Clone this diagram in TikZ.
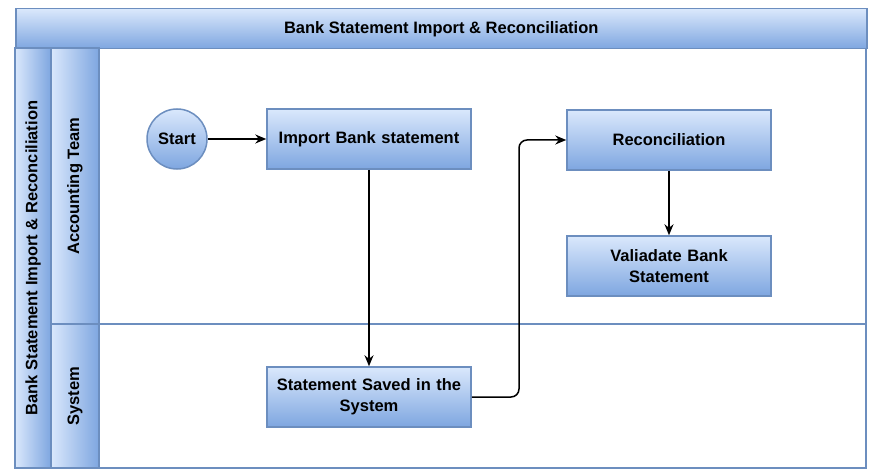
\documentclass[tikz,border=0pt]{standalone}
\usepackage{fontspec}
\setmainfont{Liberation Sans}
\usetikzlibrary{arrows.meta}
\definecolor{lt}{HTML}{DAE8FC}
\definecolor{dk}{HTML}{7EA6E0}
\definecolor{st}{HTML}{6C8EBF}
\begin{document}
\begin{tikzpicture}[x=1pt,y=-1pt,
  fnt/.style={font=\fontsize{16.5}{21}\selectfont\bfseries},
  vg/.style={draw=st,line width=1.5pt,top color=lt,bottom color=dk},
  hg/.style={draw=st,line width=1.5pt,left color=lt,right color=dk},
  box/.style={vg,fnt,minimum width=204pt,minimum height=60pt,align=center,text width=198pt,inner sep=2pt},
  arr/.style={-{Stealth[length=11pt,width=9pt]},line width=1.5pt,black,rounded corners=8pt}]
\useasboundingbox (0,0) rectangle (875,476);
\draw[st,line width=1.5pt,fill=white] (99,48) rectangle (866,324);
\draw[st,line width=1.5pt,fill=white] (99,324) rectangle (866,468);
\node[vg,fnt,minimum width=851pt,minimum height=40pt,anchor=north west,inner sep=0pt] (title) at (15,8) {Bank Statement Import \& Reconciliation};
\node[hg,fnt,minimum width=420pt,minimum height=36pt,rotate=90,inner sep=0pt] (pool) at (33,258) {Bank Statement Import \& Reconciliation};
\node[hg,fnt,minimum width=276pt,minimum height=48pt,rotate=90,inner sep=0pt] (lane1) at (75,186) {Accounting Team};
\node[hg,fnt,minimum width=144pt,minimum height=48pt,rotate=90,inner sep=0pt] (lane2) at (75,396) {System};
\node[vg,fnt,circle,minimum size=60pt,inner sep=0pt] (start) at (177,139) {Start};
\node[box] (imp) at (369,139) {Import Bank statement};
\node[box] (rec) at (669,140) {Reconciliation};
\node[box] (val) at (669,266) {Valiadate Bank\\Statement};
\node[box] (sav) at (369,397) {Statement Saved in the\\System};
\draw[arr] (start) -- (imp);
\draw[arr] (imp) -- (sav);
\draw[arr] (sav.east) -- (519,397) -- (519,140) -- (rec.west);
\draw[arr] (rec) -- (val);
\end{tikzpicture}
\end{document}
